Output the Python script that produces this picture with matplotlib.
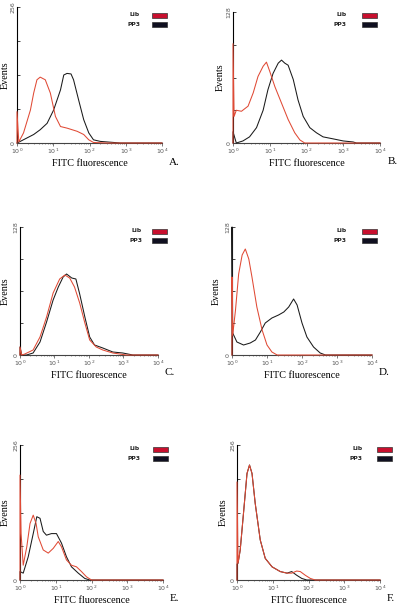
import matplotlib
matplotlib.use('Agg')
import matplotlib.pyplot as plt
import matplotlib.patches as mpatches
import numpy as np

# panel data: x as log10(FITC), y as event counts
a_red_x = [0, 0.0, 0.05, 0.18, 0.37, 0.46, 0.55, 0.64, 0.78, 0.92, 1.06, 1.2, 1.38, 1.66, 1.84, 1.98, 2.11, 2.48, 4.0]
a_red_y = [0, 59, 2, 19, 62, 94, 119, 124, 119, 94, 50, 31, 28, 22, 16, 6, 1, 0, 0]
a_blk_x = [0, 0.09, 0.46, 0.64, 0.83, 1.01, 1.2, 1.29, 1.38, 1.49, 1.56, 1.7, 1.84, 1.98, 2.11, 2.3, 2.67, 2.85, 4.0]
a_blk_y = [0, 3, 16, 25, 37, 62, 100, 128, 131, 130, 119, 81, 44, 19, 6, 3, 1, 0, 0]

b_red_x = [0, 0.0, 0.03, 0.09, 0.23, 0.41, 0.55, 0.68, 0.82, 0.91, 1.0, 1.14, 1.32, 1.5, 1.68, 1.82, 1.95, 4.0]
b_red_y = [0, 97, 26, 32, 31, 36, 49, 65, 75, 79, 70, 55, 39, 23, 10, 3, 0, 0]
b_blk_x = [0, 0.0, 0.09, 0.27, 0.45, 0.64, 0.82, 0.95, 1.09, 1.23, 1.32, 1.41, 1.5, 1.64, 1.77, 1.91, 2.09, 2.27, 2.45, 2.73, 3.0, 3.27, 3.36, 4.0]
b_blk_y = [0, 11, 0, 2, 6, 15, 32, 52, 68, 78, 81, 78, 76, 62, 42, 26, 15, 10, 6, 4, 2, 1, 0, 0]

c_red_x = [0, 0.0, 0.05, 0.14, 0.38, 0.58, 0.77, 0.96, 1.15, 1.3, 1.44, 1.58, 1.73, 1.88, 2.02, 2.21, 2.4, 2.69, 3.08, 3.27, 4.0]
c_red_y = [0, 8, 0, 1, 5, 18, 38, 62, 76, 80, 77, 68, 52, 32, 15, 8, 5, 2, 0, 0, 0]
c_blk_x = [0, 0.0, 0.05, 0.19, 0.38, 0.58, 0.77, 0.96, 1.11, 1.25, 1.35, 1.5, 1.62, 1.73, 1.88, 2.02, 2.16, 2.4, 2.69, 2.98, 3.27, 4.0]
c_blk_y = [0, 8, 0, 0, 2, 13, 33, 55, 68, 78, 81, 77, 76, 61, 38, 18, 10, 7, 3, 2, 0, 0]

d_red_x = [0, 0.0, 0.02, 0.1, 0.19, 0.29, 0.38, 0.48, 0.57, 0.71, 0.86, 1.0, 1.14, 1.29, 4.0]
d_red_y = [0, 78, 20, 45, 81, 100, 106, 96, 78, 48, 25, 10, 3, 0, 0]
d_blk_x = [0, 0.0, 0.02, 0.14, 0.33, 0.52, 0.67, 0.81, 0.95, 1.14, 1.33, 1.48, 1.62, 1.76, 1.86, 2.0, 2.14, 2.33, 2.52, 2.67, 4.0]
d_blk_y = [0, 128, 22, 13, 10, 12, 15, 23, 32, 37, 40, 43, 48, 56, 50, 32, 18, 8, 2, 0, 0]

e_red_x = [0, 0.0, 0.03, 0.09, 0.19, 0.28, 0.37, 0.45, 0.51, 0.65, 0.79, 0.93, 1.07, 1.16, 1.3, 1.44, 1.58, 1.72, 1.86, 2.0, 4.0]
e_red_y = [0, 199, 88, 28, 63, 107, 123, 107, 82, 57, 51, 60, 73, 63, 38, 28, 25, 16, 6, 0, 0]
e_blk_x = [0, 0.0, 0.09, 0.23, 0.37, 0.47, 0.56, 0.65, 0.74, 0.88, 1.02, 1.16, 1.3, 1.44, 1.63, 1.81, 1.95, 4.0]
e_blk_y = [0, 16, 13, 44, 88, 120, 117, 92, 85, 88, 88, 70, 44, 25, 13, 3, 0, 0]

f_red_x = [0, 0.0, 0.03, 0.09, 0.19, 0.28, 0.35, 0.42, 0.51, 0.65, 0.79, 0.98, 1.21, 1.4, 1.53, 1.67, 1.77, 1.91, 2.05, 2.19, 4.0]
f_red_y = [0, 186, 32, 57, 133, 202, 218, 202, 145, 76, 41, 25, 16, 13, 13, 17, 16, 9, 3, 0, 0]
f_blk_x = [0, 0.0, 0.03, 0.09, 0.19, 0.28, 0.35, 0.42, 0.51, 0.65, 0.79, 0.98, 1.21, 1.4, 1.53, 1.67, 1.81, 1.95, 4.0]
f_blk_y = [0, 30, 32, 57, 133, 202, 218, 202, 145, 76, 41, 25, 16, 13, 16, 9, 3, 0, 0]

panel_labels = ['A.', 'B.', 'C.', 'D.', 'E.', 'F.']
y_max = [256, 128, 128, 128, 256, 256]
series = [
    (a_red_x, a_red_y, a_blk_x, a_blk_y),
    (b_red_x, b_red_y, b_blk_x, b_blk_y),
    (c_red_x, c_red_y, c_blk_x, c_blk_y),
    (d_red_x, d_red_y, d_blk_x, d_blk_y),
    (e_red_x, e_red_y, e_blk_x, e_blk_y),
    (f_red_x, f_red_y, f_blk_x, f_blk_y),
]

# layout in pixels: axes (x0, x1, top, bottom), legend (text right, box left, Lib y, PP3 y)
W, H = 400.0, 605.0
axes_px = [(17, 162, 7, 143), (233, 380, 12, 143),
           (20, 158, 227, 355), (232, 372, 227, 355),
           (20, 163, 445, 580), (237, 380, 445, 580)]
legend_px = [(140, 152, 15, 24), (347, 362, 15, 24),
             (142, 152, 231, 240), (347, 362, 231, 240),
             (140, 153, 449, 458), (363, 377, 449, 458)]
events_x = [5, 220, 5, 216, 5, 223]

serif = ['Liberation Serif', 'DejaVu Serif']
red = '#e04a35'
blk = '#1a1a1a'

fig = plt.figure(figsize=(4, 6.05), dpi=100)

for i in range(6):
    rx, ry, bx, by = series[i]
    ymax = y_max[i]
    x0, x1, top, bot = axes_px[i]
    ax = fig.add_axes([x0 / W, 1 - bot / H, (x1 - x0) / W, (bot - top) / H])
    ax.plot(np.power(10.0, bx), by, color=blk, lw=0.75, zorder=3, clip_on=False)
    ax.plot(np.power(10.0, rx), ry, color=red, lw=0.75, zorder=3, clip_on=False)
    ax.set_xscale('log')
    ax.set_xlim(1, 1e4)
    ax.set_ylim(0, ymax)
    for s in ['top', 'right']:
        ax.spines[s].set_visible(False)
    ax.spines['left'].set_linewidth(0.8)
    ax.spines['bottom'].set_linewidth(0.8)
    ax.spines['bottom'].set_linestyle((0, (1, 1)))
    ax.spines['bottom'].set_color('#444444')
    ax.set_xticks([1, 10, 100, 1000, 10000])
    ax.set_xticklabels([r'$10^0$', r'$10^1$', r'$10^2$', r'$10^3$', r'$10^4$'])
    ax.tick_params(axis='x', which='major', labelsize=4.5, length=2, width=0.5,
                   pad=1, labelcolor='#555555', color='#444444')
    ax.tick_params(axis='x', which='minor', length=1, width=0.4, color='#444444')
    ax.set_yticks([0, ymax / 4, ymax / 2, 3 * ymax / 4, ymax])
    ax.set_yticklabels(['0', '', '', '', str(ymax)], rotation=90, va='center')
    ax.tick_params(axis='y', labelsize=4.5, length=2, width=0.5, direction='in',
                   pad=1, labelcolor='#555555')
    ax.set_xlabel('FITC fluorescence', fontsize=7.3, family=serif, labelpad=2)
    fig.text(events_x[i] / W, 1 - (top + bot) / 2 / H, 'Events', rotation=90,
             fontsize=7.3, family=serif, ha='center', va='center')
    ax.text(1.05, -0.14, panel_labels[i], transform=ax.transAxes, fontsize=8,
            family=serif, va='center', ha='left')

    # legend
    tx, bx0, ly1, ly2 = legend_px[i]
    for name, ly, fc in [('Lib', ly1, '#c8102e'), ('PP3', ly2, '#101020')]:
        fig.text(tx / W, 1 - ly / H, name, fontsize=4.3, weight='bold',
                 ha='right', va='center', color='#222222')
        fig.patches.append(mpatches.Rectangle((bx0 / W, 1 - (ly + 2.5) / H), 15 / W, 5 / H,
                                              transform=fig.transFigure, figure=fig,
                                              facecolor=fc, edgecolor='#333333', lw=0.5))

fig.savefig('out.png', dpi=100)
